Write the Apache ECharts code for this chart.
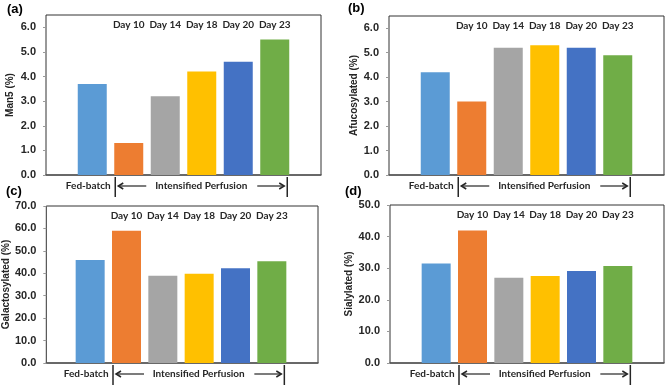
<!DOCTYPE html>
<html>
<head>
<meta charset="utf-8">
<script src="https://cdn.jsdelivr.net/npm/echarts@6/dist/echarts.min.js"></script>
<style>
  html, body { margin: 0; padding: 0; background: #fff; }
  #main { width: 666px; height: 387px; }
</style>
</head>
<body>
<div id="main"></div>
<script>
const categories = ['Fed-batch', 'Day 10', 'Day 14', 'Day 18', 'Day 20', 'Day 23']
const man5 = [3.7, 1.3, 3.2, 4.2, 4.6, 5.5]
const afucosylated = [4.2, 3.0, 5.2, 5.3, 5.2, 4.9]
const galactosylated = [45.9, 59.0, 38.9, 39.8, 42.2, 45.4]
const sialylated = [31.5, 41.9, 27.0, 27.5, 29.1, 30.7]
const barColors = ['#5B9BD5', '#ED7D31', '#A5A5A5', '#FFC000', '#4472C4', '#70AD47']

// layout of the four panels (frame box = left, top, width, height)
const panels = [
  { tag: '(a)', name: 'Man5 (%)', values: man5, max: 6.5, interval: 1, box: [46, 15, 275, 160], nameGap: 31, tagPos: [7, 9] },
  { tag: '(b)', name: 'Afucosylated (%)', values: afucosylated, max: 6.5, interval: 1, box: [389, 16, 275, 159], nameGap: 30, tagPos: [348, 8] },
  { tag: '(c)', name: 'Galactosylated (%)', values: galactosylated, max: 70, interval: 10, box: [44, 206, 274, 157], nameGap: 33, tagPos: [6, 191] },
  { tag: '(d)', name: 'Sialylated (%)', values: sialylated, max: 50, interval: 10, box: [390, 205, 274, 158], nameGap: 27, tagPos: [345, 191] },
]

const INSET = 28
const BAR_W = 29
const textColor = '#262626'
const calibriLike = { fontFamily: 'Lato', fontWeight: 'bold', fontSize: 10, color: textColor }

const chart = echarts.init(document.getElementById('main'))

const grid = []
const xAxis = []
const yAxis = []
const series = []

panels.forEach((p, i) => {
  const [bx, by, bw, bh] = p.box
  grid.push({ left: bx, top: by, width: bw, height: bh, show: true, borderColor: '#333', borderWidth: 1 })
  grid.push({ left: bx + INSET, top: by, width: bw - 2 * INSET, height: bh })

  xAxis.push({
    type: 'value', gridIndex: 2 * i, min: 0, max: 1,
    axisLine: { show: true, onZero: false, lineStyle: { color: '#595959', width: 1.5 } },
    axisTick: { show: false }, axisLabel: { show: false }, splitLine: { show: false },
  })
  xAxis.push({
    type: 'category', gridIndex: 2 * i + 1, position: 'top', data: categories,
    axisLine: { show: false }, axisTick: { show: false },
    axisLabel: { ...calibriLike, inside: true, margin: 5, interval: 0, formatter: v => (v === categories[0] ? '' : v) },
  })
  xAxis.push({
    type: 'category', gridIndex: 2 * i + 1, position: 'bottom', data: categories,
    axisLine: { show: false }, axisTick: { show: false },
    axisLabel: { ...calibriLike, margin: 6, interval: 0, padding: [0, 8, 0, 0], formatter: v => (v === categories[0] ? v : '') },
  })

  yAxis.push({
    type: 'value', gridIndex: 2 * i, min: 0, max: p.max, interval: p.interval,
    name: p.name, nameLocation: 'middle', nameGap: p.nameGap,
    nameTextStyle: { fontFamily: 'Liberation Sans', fontWeight: 'bold', fontSize: 10, color: textColor },
    axisLine: { show: false },
    axisTick: { show: true, length: 3, lineStyle: { color: '#999' } },
    axisLabel: {
      showMaxLabel: p.max % p.interval === 0,
      formatter: v => v.toFixed(1),
      fontFamily: 'Liberation Sans', fontWeight: 'bold', fontSize: 11, color: textColor, margin: 10,
    },
    splitLine: { show: false },
  })
  yAxis.push({ type: 'value', gridIndex: 2 * i + 1, min: 0, max: p.max, show: false })

  series.push({
    type: 'bar', xAxisIndex: 3 * i + 1, yAxisIndex: 2 * i + 1,
    data: p.values, barWidth: BAR_W, colorBy: 'data',
  })
})

chart.setOption({
  animation: false,
  color: barColors,
  grid, xAxis, yAxis, series,
})

// annotations: panel tags and the "Fed-batch | <- Intensified Perfusion -> |" bracket
const gfx = []
panels.forEach((p, i) => {
  gfx.push({
    type: 'text', x: p.tagPos[0], y: p.tagPos[1],
    style: { text: p.tag, font: 'bold 13px "Liberation Sans"', fill: '#000', align: 'left', verticalAlign: 'middle' },
  })
  const xk = 3 * i + 1
  const xl = chart.convertToPixel({ xAxisIndex: xk }, categories[1]) - BAR_W / 2 + 1
  const xr = chart.convertToPixel({ xAxisIndex: xk }, categories[5]) + BAR_W / 2 - 2
  const y0 = chart.convertToPixel({ yAxisIndex: 2 * i + 1 }, 0)
  const ya = y0 + 11
  const stroke = { stroke: textColor, lineWidth: 1.5, fill: null }
  gfx.push({ type: 'line', shape: { x1: xl, y1: y0 + 2, x2: xl, y2: y0 + 22 }, style: stroke })
  gfx.push({ type: 'line', shape: { x1: xr, y1: y0 + 2, x2: xr, y2: y0 + 22 }, style: stroke })
  gfx.push({ type: 'line', shape: { x1: xl + 3, y1: ya, x2: xl + 31, y2: ya }, style: { stroke: textColor, lineWidth: 1.2 } })
  gfx.push({ type: 'polyline', shape: { points: [[xl + 8, ya - 3], [xl + 3, ya], [xl + 8, ya + 3]] }, style: stroke })
  gfx.push({ type: 'line', shape: { x1: xr - 30, y1: ya, x2: xr - 3, y2: ya }, style: { stroke: textColor, lineWidth: 1.2 } })
  gfx.push({ type: 'polyline', shape: { points: [[xr - 8, ya - 3], [xr - 3, ya], [xr - 8, ya + 3]] }, style: stroke })
  gfx.push({
    type: 'text', x: (xl + xr) / 2, y: ya,
    style: { text: 'Intensified Perfusion', font: 'bold 10px Lato', fill: textColor, align: 'center', verticalAlign: 'middle' },
  })
})
chart.setOption({ graphic: gfx })
</script>
</body>
</html>
